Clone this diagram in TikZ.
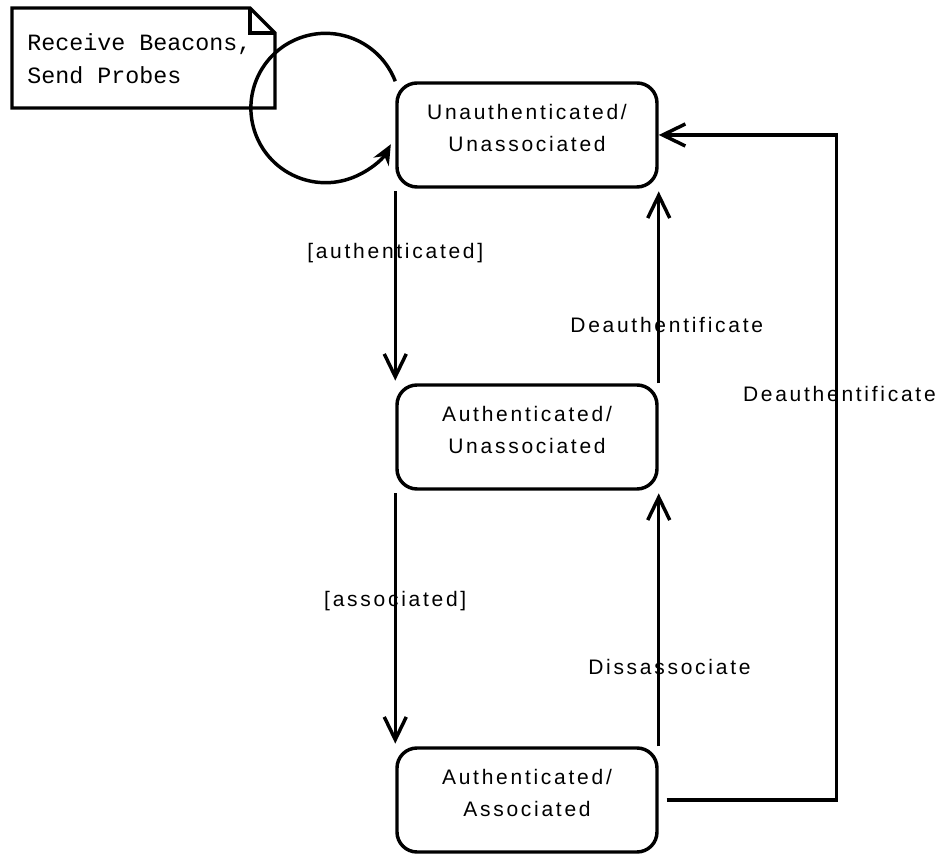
\documentclass[tikz,border=0pt]{standalone}
\usepackage{fontspec}
\setmainfont{Liberation Sans}[LetterSpace=13]
\setmonofont{Liberation Mono}
\usetikzlibrary{arrows.meta}

\tikzset{
  state/.style={draw, line width=2.6pt, rounded corners=15pt, minimum width=195pt,
    minimum height=78pt, inner sep=0pt, align=center,
    font=\fontsize{15.75}{24}\selectfont,
    execute at end node={\rule[-10pt]{0pt}{10pt}}},
  trans/.style={line width=2.6pt,
    -{Straight Barb[length=17pt,width=16.5pt,line width=2.6pt]}},
  lbl/.style={font=\fontsize{15.75}{19}\selectfont, inner sep=0pt},
  memo/.style={font=\ttfamily\fontsize{17.5}{25}\selectfont, align=left, inner sep=0pt}
}

\begin{document}
\begin{tikzpicture}[x=0.75pt, y=0.75pt]
            \useasboundingbox (0,0) rectangle (943,856);

            % states
            \node[state] (ua) at (527,721) {Unauthenticated/\\Unassociated};
            \node[state] (au) at (527,419) {Authenticated/\\Unassociated};
            \node[state] (aa) at (527,56) {Authenticated/\\Associated};

            % note
            \draw[line width=2.6pt] (12,848) -- (250,848) -- (275,823) -- (275,748) -- (12,748) -- cycle;
            \draw[line width=2.6pt] (250,848) -- (250,823) -- (275,823);
            \node[memo, anchor=west] (note) at (27,797) {Receive Beacons,\\Send Probes};

            % self loop
            \draw[line width=2.6pt, -{Stealth[length=15pt,width=13pt]}] (ua.north west) arc[start angle=21, end angle=331, radius=56pt];

            % transitions
            \draw[trans, shorten <=2pt, shorten >=2pt] (ua.south west) -- (au.north west) node[lbl, pos=0.33]{[authenticated]};
            \draw[trans, shorten <=2pt, shorten >=2pt] (au.south west) -- (aa.north west) node[lbl, pos=0.43]{[associated]};
            \draw[trans, shorten >=2pt] (au.north east) -- (ua.south east) node[lbl, pos=0.3, xshift=6pt]{Deauthentificate};
            \draw[trans, shorten >=2pt] (aa.north east) -- (au.south east) node[lbl, pos=0.31, xshift=8pt]{Dissassociate};
            \draw[trans, shorten <=6pt] (aa.east) -- ++(178,0) |- (ua.east) node[lbl, pos=0.305, xshift=2pt]{Deauthentificate};
        \end{tikzpicture}
\end{document}
